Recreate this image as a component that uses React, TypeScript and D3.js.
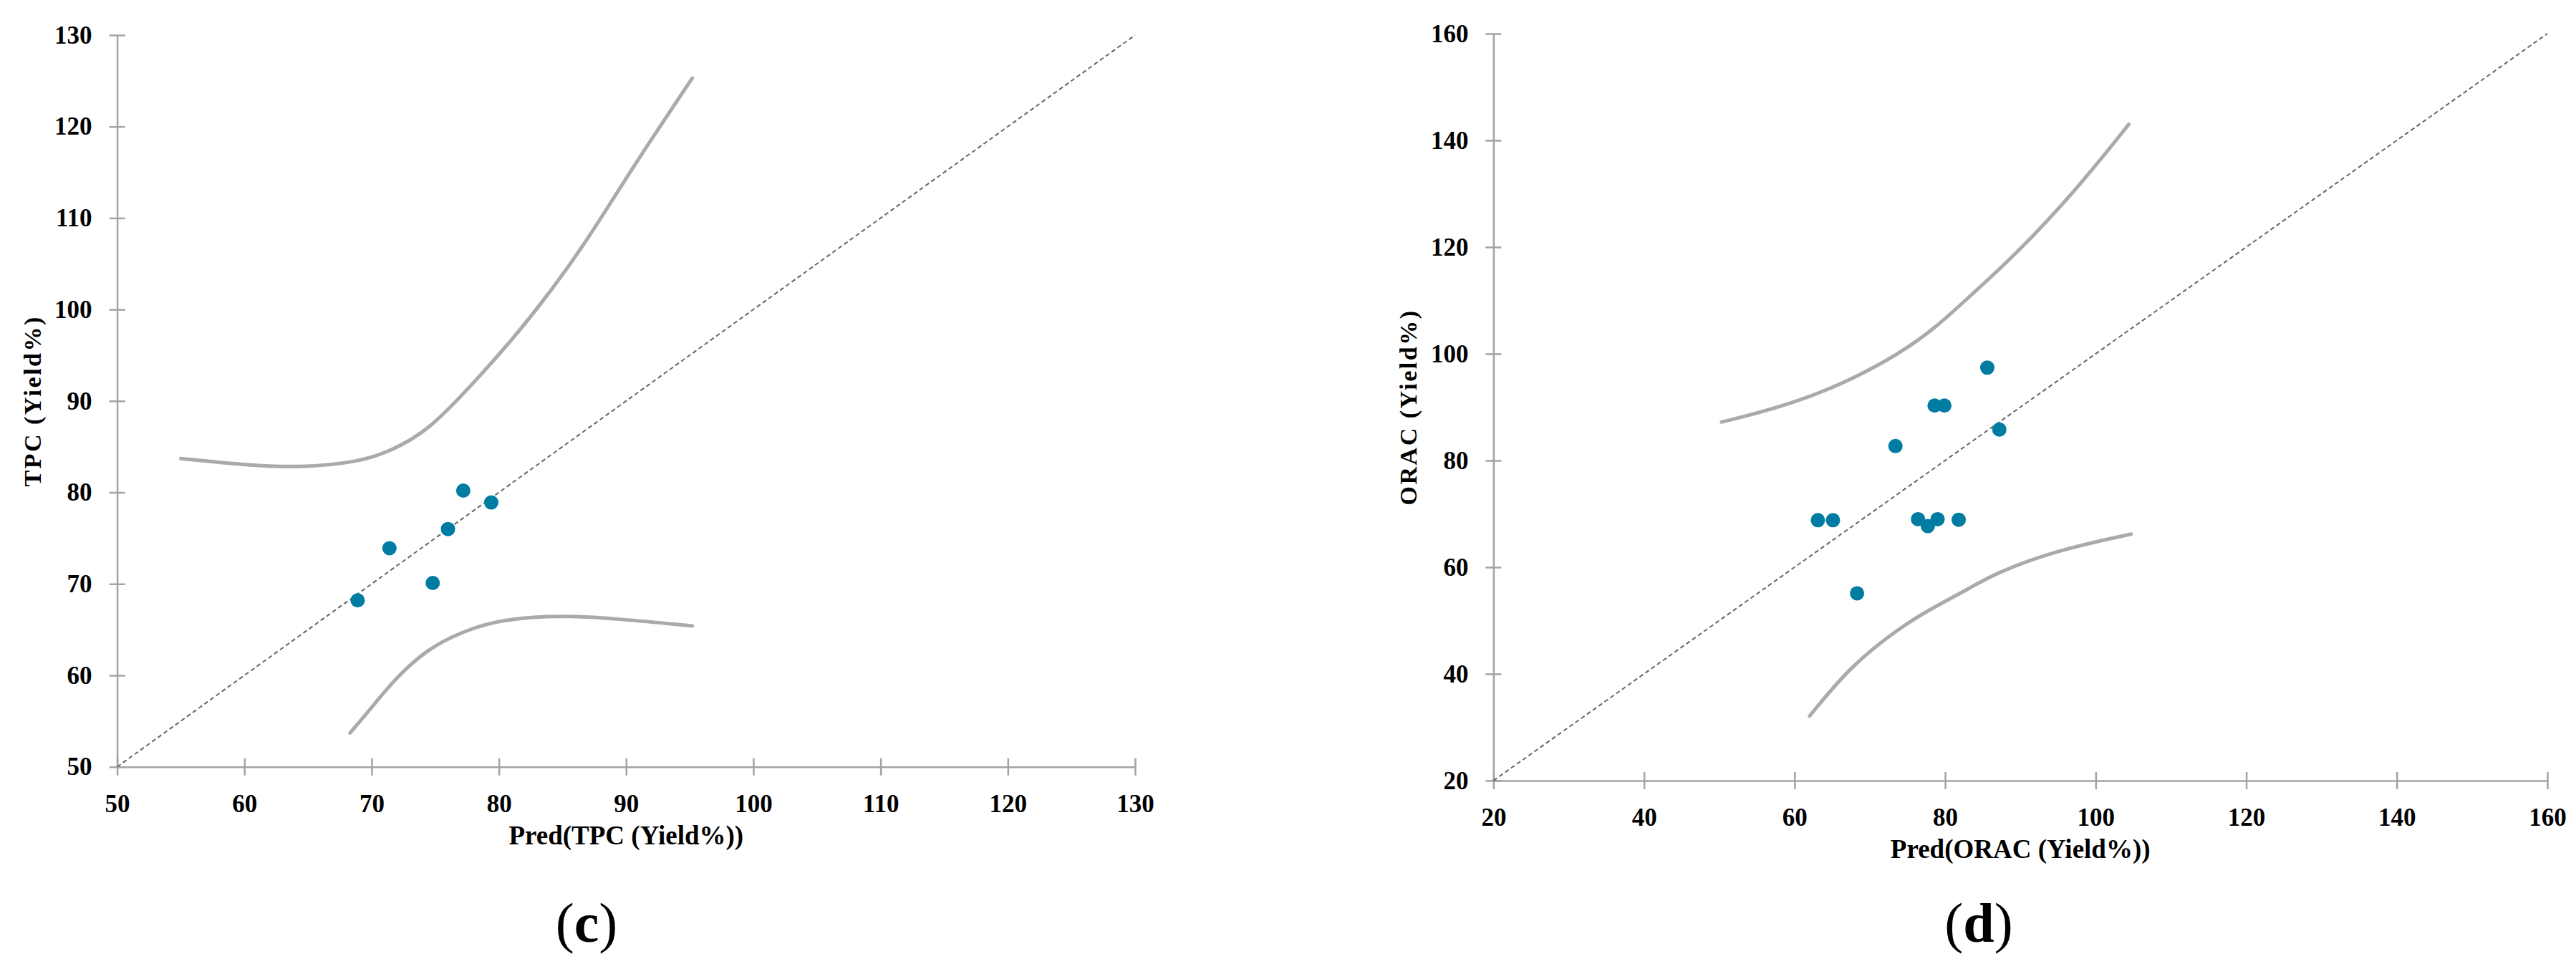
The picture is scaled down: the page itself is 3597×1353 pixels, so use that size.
import React, { useRef, useEffect } from "react";
import * as d3 from "d3";

const WIDTH = 3597;
const HEIGHT = 1353;
const POINT_COLOR = "#007ba1";
const AXIS_COLOR = "#a3a3a3";
const BAND_COLOR = "#aaaaaa";
const FONT = "'Liberation Serif', 'Times New Roman', serif";

// (c) TPC
const TPC_TICKS = [50, 60, 70, 80, 90, 100, 110, 120, 130];
const TPC_PRED = [68.9, 71.4, 74.8, 76.0, 77.2, 79.4];
const TPC_ACTUAL = [68.2, 73.9, 70.1, 76.0, 80.2, 78.9];
const TPC_UPPER = [
  [55, 83.7], [60, 83.0], [64.4, 82.7], [68.9, 83.3], [71.5, 84.5], [74.5, 86.8],
  [77.9, 91.8], [81.2, 96.9], [84.4, 102.6], [86.7, 107.1], [89.3, 112.8],
  [91.5, 117.6], [95.2, 125.3],
];
const TPC_LOWER = [
  [68.3, 53.7], [69.9, 56.3], [71.8, 59.6], [74.4, 62.9], [77.0, 64.7],
  [79.6, 65.9], [82.8, 66.4], [85.4, 66.5], [89.3, 66.2], [95.2, 65.4],
];

// (d) ORAC
const ORAC_TICKS = [20, 40, 60, 80, 100, 120, 140, 160];
const ORAC_PRED = [63.1, 65.1, 68.3, 73.4, 76.4, 77.7, 79.0, 81.8, 78.6, 79.9, 85.6, 87.2];
const ORAC_ACTUAL = [68.8, 68.8, 55.1, 82.7, 69.0, 67.7, 69.0, 68.9, 90.3, 90.3, 97.4, 85.8];
const ORAC_UPPER = [
  [50.3, 87.2], [57.7, 89.8], [65.9, 93.9], [74.1, 100.1], [79.0, 105.2],
  [83.2, 110.7], [89.4, 118.6], [97.6, 131.0], [104.4, 143.0],
];
const ORAC_LOWER = [
  [62.0, 32.1], [67.5, 41.6], [74.1, 48.8], [78.5, 52.5], [83.2, 56.0],
  [86.7, 58.9], [94.9, 63.2], [104.7, 66.2],
];

const PANELS = [
  {
    ticks: TPC_TICKS, pred: TPC_PRED, actual: TPC_ACTUAL, upper: TPC_UPPER, lower: TPC_LOWER,
    xRange: [163.6, 1585], yRange: [1070.7, 49],
    xTitle: "Pred(TPC (Yield%))", yTitle: "TPC (Yield%)", yTitleX: 57,
    caption: "(c)", captionX: 819,
  },
  {
    ticks: ORAC_TICKS, pred: ORAC_PRED, actual: ORAC_ACTUAL, upper: ORAC_UPPER, lower: ORAC_LOWER,
    xRange: [2085.4, 3557], yRange: [1089.9, 47],
    xTitle: "Pred(ORAC (Yield%))", yTitle: "ORAC (Yield%)", yTitleX: 1978,
    caption: "(d)", captionX: 2763,
  },
];

export default function App() {
  const svgRef = useRef<SVGSVGElement>(null);

  useEffect(() => {
    const svg = d3.select(svgRef.current);
    svg.selectAll("*").remove();

    PANELS.forEach((p) => {
      const lo = p.ticks[0];
      const hi = p.ticks[p.ticks.length - 1];
      const x = d3.scaleLinear().domain([lo, hi]).range(p.xRange);
      const y = d3.scaleLinear().domain([lo, hi]).range(p.yRange);
      const g = svg.append("g");

      // X axis
      const xAxis = g
        .append("g")
        .attr("transform", `translate(0,${y(lo)})`)
        .call(d3.axisBottom(x).tickValues(p.ticks).tickSizeInner(12).tickSizeOuter(0).tickPadding(26));
      xAxis.select(".domain").attr("stroke", AXIS_COLOR).attr("stroke-width", 2.5);
      xAxis.selectAll(".tick line").attr("stroke", AXIS_COLOR).attr("stroke-width", 2.5).attr("y1", -12);
      xAxis
        .selectAll(".tick text")
        .attr("font-family", FONT)
        .attr("font-weight", "bold")
        .attr("font-size", 35)
        .attr("fill", "#000");

      // Y axis
      const yAxis = g
        .append("g")
        .attr("transform", `translate(${x(lo)},0)`)
        .call(d3.axisLeft(y).tickValues(p.ticks).tickSizeInner(11).tickSizeOuter(0).tickPadding(24));
      yAxis.select(".domain").attr("stroke", AXIS_COLOR).attr("stroke-width", 2.5);
      yAxis.selectAll(".tick line").attr("stroke", AXIS_COLOR).attr("stroke-width", 2.5).attr("x1", 11);
      yAxis
        .selectAll(".tick text")
        .attr("font-family", FONT)
        .attr("font-weight", "bold")
        .attr("font-size", 35)
        .attr("fill", "#000");

      // 1:1 reference line
      g.append("line")
        .attr("x1", x(lo))
        .attr("y1", y(lo))
        .attr("x2", x(hi))
        .attr("y2", y(hi))
        .attr("stroke", "#666")
        .attr("stroke-width", 2)
        .attr("stroke-dasharray", "6,4");

      // Confidence curves (smoothed through read-off points)
      const line = d3
        .line<number[]>()
        .x((d) => x(d[0]))
        .y((d) => y(d[1]))
        .curve(d3.curveBasis);
      [p.upper, p.lower].forEach((c) => {
        g.append("path")
          .attr("d", line(c))
          .attr("fill", "none")
          .attr("stroke", BAND_COLOR)
          .attr("stroke-width", 5)
          .attr("stroke-linecap", "round");
      });

      // Points
      g.selectAll(".pt")
        .data(p.pred.map((v, i) => [v, p.actual[i]]))
        .join("circle")
        .attr("class", "pt")
        .attr("cx", (d) => x(d[0]))
        .attr("cy", (d) => y(d[1]))
        .attr("r", 10)
        .attr("fill", POINT_COLOR);

      // Axis titles
      g.append("text")
        .attr("x", (p.xRange[0] + p.xRange[1]) / 2)
        .attr("y", y(lo) + 108)
        .attr("text-anchor", "middle")
        .attr("font-family", FONT)
        .attr("font-weight", "bold")
        .attr("font-size", 37)
        .text(p.xTitle);

      g.append("text")
        .attr("transform", `translate(${p.yTitleX},${(p.yRange[0] + p.yRange[1]) / 2}) rotate(-90)`)
        .attr("text-anchor", "middle")
        .attr("font-family", FONT)
        .attr("font-weight", "bold")
        .attr("font-size", 34)
        .attr("letter-spacing", 2.5)
        .text(p.yTitle);

      // Caption
      g.append("text")
        .attr("x", p.captionX)
        .attr("y", 1315)
        .attr("text-anchor", "middle")
        .attr("font-family", FONT)
        .attr("font-size", 78)
        .call((t) => {
          t.append("tspan").text("(");
          t.append("tspan").attr("font-weight", "bold").text(p.caption.slice(1, -1));
          t.append("tspan").text(")");
        });
    });
  }, []);

  return (
    <svg
      ref={svgRef}
      width={WIDTH}
      height={HEIGHT}
      style={{ position: "absolute", left: 0, top: 0, background: "#fff" }}
    />
  );
}
